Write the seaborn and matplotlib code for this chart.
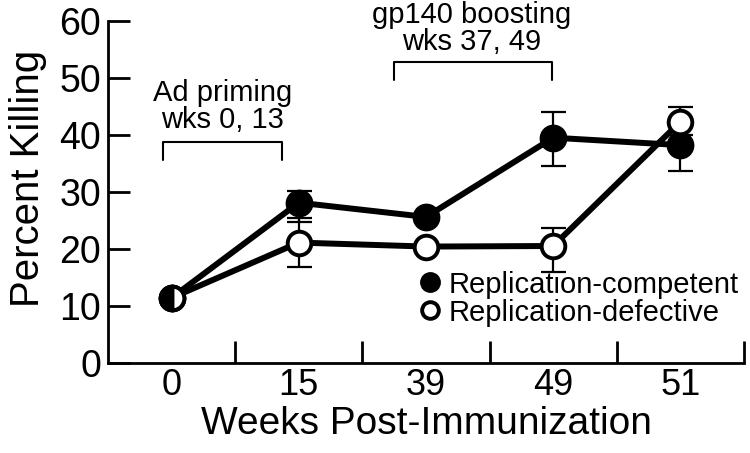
import numpy as np
import pandas as pd
import matplotlib.pyplot as plt
import seaborn as sns
from matplotlib.lines import Line2D

# values
weeks = ['0', '15', '39', '49', '51']
competent = [11.4, 28.1, 25.6, 39.5, 38.2]
competent_lo = [np.nan, 24.7, np.nan, 34.6, 33.7]
competent_hi = [np.nan, 30.2, np.nan, 44.0, 42.7]
defective = [11.4, 21.1, 20.4, 20.5, 42.3]
defective_lo = [np.nan, 16.8, np.nan, 16.0, 39.9]
defective_hi = [np.nan, 25.4, np.nan, 23.7, 44.9]
y_ticks = [0, 10, 20, 30, 40, 50, 60]

sns.set_theme(style='ticks')
plt.rcParams['font.family'] = ['Liberation Sans', 'DejaVu Sans']
for k in ['text.color', 'axes.labelcolor', 'xtick.color', 'ytick.color', 'axes.edgecolor']:
    plt.rcParams[k] = 'black'

pos = np.arange(len(weeks))
df = pd.DataFrame({'pos': pos, 'comp': competent, 'defe': defective})

fig = plt.figure(figsize=(7.5, 4.53), dpi=100)
ax = fig.add_axes([0.144, 0.199, 0.848, 0.755])

# error bars behind the markers
for vals, lo, hi in [(competent, competent_lo, competent_hi),
                     (defective, defective_lo, defective_hi)]:
    v = np.array(vals)
    lo = np.array(lo)
    hi = np.array(hi)
    m = ~np.isnan(lo)
    ax.errorbar(pos[m], v[m], yerr=[v[m] - lo[m], hi[m] - v[m]], fmt='none',
                ecolor='black', elinewidth=1.6, capsize=9, capthick=1.6, zorder=2)

sns.lineplot(data=df, x='pos', y='comp', ax=ax, color='black', lw=4.3,
             marker='o', markersize=18, markerfacecolor='black',
             markeredgecolor='black', markeredgewidth=2, zorder=3)
sns.lineplot(data=df, x='pos', y='defe', ax=ax, color='black', lw=4.3,
             marker='o', markersize=17, markerfacecolor='white',
             markeredgecolor='black', markeredgewidth=2.8, zorder=4)
# half-filled marker where both series coincide
ax.plot(pos[0], competent[0], marker='o', markersize=17, fillstyle='left',
        markerfacecolor='black', markerfacecoloralt='white',
        markeredgecolor='black', markeredgewidth=2.8, zorder=5)

ax.set_xlim(-0.5, 4.5)
ax.set_ylim(0, 60)
ax.set_xticks(pos)
ax.set_xticklabels(weeks)
ax.set_xticks(pos + 0.5, minor=True)
ax.set_yticks(y_ticks)
ax.tick_params(axis='x', which='major', length=0, labelsize=26, pad=4)
ax.tick_params(axis='x', which='minor', direction='in', length=16, width=2)
ax.tick_params(axis='y', direction='in', length=16, width=2, labelsize=27, pad=5)
for s in ['top', 'right']:
    ax.spines[s].set_visible(False)
for s in ['left', 'bottom']:
    ax.spines[s].set_linewidth(2)
ax.set_xlabel('Weeks Post-Immunization', fontsize=28, labelpad=2)
ax.set_ylabel('Percent Killing', fontsize=29)
ax.yaxis.set_label_coords(-0.096, 0.54)

# treatment brackets
ax.plot([-0.07, -0.07, 0.865, 0.865], [35.6, 38.8, 38.8, 35.6], color='black', lw=1.5)
ax.text(0.40, 45.0, 'Ad priming\nwks 0, 13', ha='center', va='center',
        fontsize=21, linespacing=0.95)
ax.plot([1.745, 1.745, 2.99, 2.99], [49.6, 52.8, 52.8, 49.6], color='black', lw=1.5)
ax.text(2.36, 58.7, 'gp140 boosting\nwks 37, 49', ha='center', va='center',
        fontsize=21, linespacing=0.95, clip_on=False)

handles = [Line2D([], [], ls='none', marker='o', markersize=13, markerfacecolor='black',
                  markeredgecolor='black', markeredgewidth=2),
           Line2D([], [], ls='none', marker='o', markersize=12, markerfacecolor='white',
                  markeredgecolor='black', markeredgewidth=2.8)]
ax.legend(handles, ['Replication-competent', 'Replication-defective'],
          loc='upper left', bbox_to_anchor=(0.49, 0.27), frameon=False,
          fontsize=21, handlelength=0.7, handletextpad=0.3, labelspacing=0.0,
          borderpad=0, borderaxespad=0)

fig.savefig('out.png', dpi=100)
